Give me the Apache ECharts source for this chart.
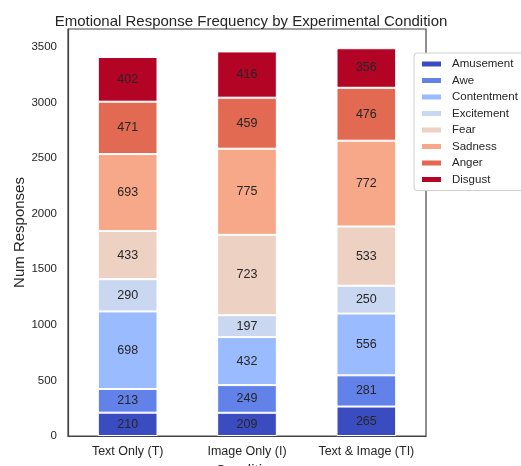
<!DOCTYPE html>
<html>
<head>
<meta charset="utf-8">
<script src="https://cdn.jsdelivr.net/npm/echarts@6/dist/echarts.min.js"></script>
<style>
  html, body { margin: 0; padding: 0; background: #fff; }
  #chart { width: 521px; height: 466px; }
</style>
</head>
<body>
<div id="chart"></div>
<script>
const conditions = ['Text Only (T)', 'Image Only (I)', 'Text & Image (TI)']
const emotions = ['Amusement', 'Awe', 'Contentment', 'Excitement', 'Fear', 'Sadness', 'Anger', 'Disgust']
const amusement = [210, 209, 265]
const awe = [213, 249, 281]
const contentment = [698, 432, 556]
const excitement = [290, 197, 250]
const fear = [433, 723, 533]
const sadness = [693, 775, 772]
const anger = [471, 459, 476]
const disgust = [402, 416, 356]
const yTicks = [0, 500, 1000, 1500, 2000, 2500, 3000, 3500]

const values = [amusement, awe, contentment, excitement, fear, sadness, anger, disgust]
const COLORS = ['#3b4cc0', '#6282ea', '#9abbff', '#c9d7f0', '#edd1c2', '#f7a889', '#e26952', '#b40426']
const FONT = 'Liberation Sans'

const chart = echarts.init(document.getElementById('chart'))

const series = emotions.map((name, i) => ({
  name,
  type: 'bar',
  stack: 'total',
  barWidth: '50%',
  itemStyle: { color: COLORS[i], borderColor: '#ffffff', borderWidth: 1 },
  label: {
    show: true,
    position: 'inside',
    color: '#262626',
    fontSize: 12.5,
    fontFamily: FONT,
  },
  data: values[i],
}))

chart.setOption({
  animation: false,
  title: {
    text: 'Emotional Response Frequency by Experimental Condition',
    left: 246,
    textAlign: 'center',
    top: 9,
    textStyle: { color: '#262626', fontSize: 15, fontWeight: 'normal', fontFamily: FONT },
  },
  legend: {
    data: emotions,
    orient: 'vertical',
    left: 414,
    top: 53,
    itemWidth: 21,
    itemHeight: 7,
    itemGap: 2.5,
    padding: [4, 10, 4, 6],
    backgroundColor: '#ffffff',
    borderColor: '#d0d0d0',
    borderWidth: 1,
    borderRadius: 3,
    textStyle: { color: '#262626', fontSize: 11.5, lineHeight: 14, fontFamily: FONT, padding: [0, 0, 0, 5] },
    icon: 'rect',
  },
  grid: {
    left: 68,
    right: 95,
    top: 29,
    bottom: 30,
    outerBoundsMode: 'none',
    show: true,
    borderColor: '#444444',
    borderWidth: 1.2,
  },
  xAxis: {
    type: 'category',
    data: conditions,
    name: 'Condition',
    nameLocation: 'middle',
    nameGap: 27,
    nameMoveOverlap: false,
    nameTextStyle: { color: '#262626', fontSize: 15, fontFamily: FONT },
    axisLine: { show: true, lineStyle: { color: '#444444', width: 1.2 } },
    axisTick: { show: false },
    axisLabel: { color: '#262626', fontSize: 12.5, margin: 9, interval: 0, fontFamily: FONT },
  },
  yAxis: {
    type: 'value',
    min: 0,
    max: 3662,
    interval: 500,
    name: 'Num Responses',
    nameLocation: 'middle',
    nameGap: 41,
    nameMoveOverlap: false,
    nameTextStyle: { color: '#262626', fontSize: 15, fontFamily: FONT },
    axisLine: { show: true, lineStyle: { color: '#444444', width: 1.2 } },
    axisTick: { show: false },
    splitLine: { show: false },
    axisLabel: {
      color: '#262626',
      fontSize: 11.5,
      margin: 11,
      fontFamily: FONT,
      showMaxLabel: false,
      formatter: v => (yTicks.includes(v) ? String(v) : ''),
    },
  },
  series,
})
</script>
</body>
</html>
